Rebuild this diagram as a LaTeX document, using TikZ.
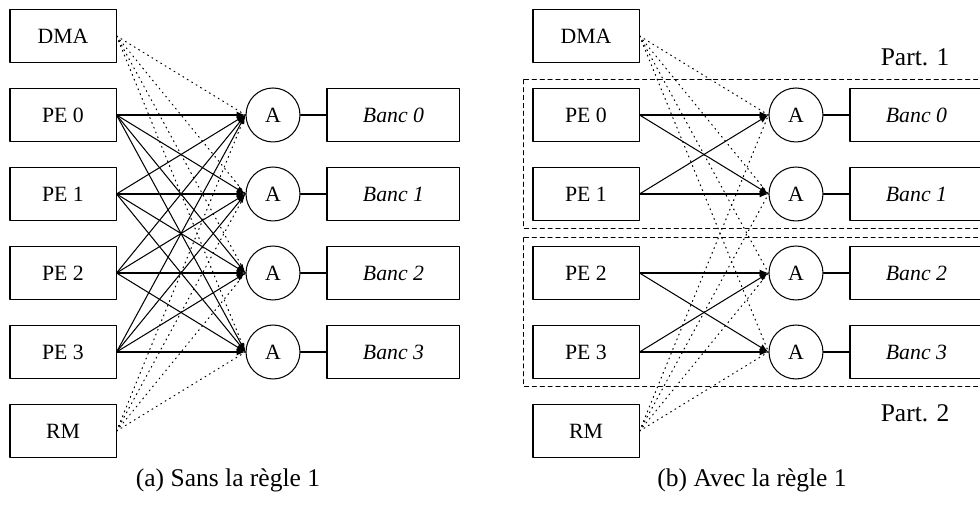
\documentclass[tikz,border=0pt]{standalone}
\usepackage{fontspec}
\setmainfont{Liberation Serif}
\usetikzlibrary{calc}

\begin{document}
\begin{tikzpicture}[line cap=round,line join=round,line width=0.5pt,
  every node/.style={font=\fontsize{10.5}{12}\selectfont},
  unit/.style={draw,minimum width=1.797cm,minimum height=0.898cm,inner sep=0pt},
  banc/.style={draw,minimum width=2.254cm,minimum height=0.898cm,inner sep=0pt,font=\fontsize{10.5}{12}\selectfont\itshape},
  arb/.style={draw,circle,minimum size=0.915cm,inner sep=0pt},
  acces/.style={-latex},
  dma/.style={dotted},
  part/.style={dash pattern=on 2pt off 1.8pt},
  legende/.style={font=\fontsize{12.3}{14}\selectfont}]

\useasboundingbox (0,0) rectangle (16.61,8.593);
\clip (0,0) rectangle (16.61,8.593);

% (a) sans la regle 1
\node[unit] (aDMA) at (1.068,7.983) {DMA};
\node[unit] (aPE0) at (1.068,6.644) {PE 0};
\node[unit] (aPE1) at (1.068,5.305) {PE 1};
\node[unit] (aPE2) at (1.068,3.966) {PE 2};
\node[unit] (aPE3) at (1.068,2.627) {PE 3};
\node[unit] (aRM)  at (1.068,1.288) {RM};

\node[arb] (aA0) at (4.627,6.644) {A};
\node[arb] (aA1) at (4.627,5.305) {A};
\node[arb] (aA2) at (4.627,3.966) {A};
\node[arb] (aA3) at (4.627,2.627) {A};

\node[banc] (aB0) at (6.669,6.644) {Banc 0};
\node[banc] (aB1) at (6.669,5.305) {Banc 1};
\node[banc] (aB2) at (6.669,3.966) {Banc 2};
\node[banc] (aB3) at (6.669,2.627) {Banc 3};

% arbitres -- bancs
\foreach \i in {0,...,3}
  \draw (aA\i) -- (aB\i);

% tous les PE vers tous les bancs
\foreach \p in {0,...,3}
  \foreach \i in {0,...,3}
    \draw[acces] (aPE\p.east) -- (aA\i.west);

% DMA et RM
\foreach \i in {0,...,3} {
  \draw[dma] (aDMA.east) -- (aA\i.west);
  \draw[dma] (aRM.east) -- (aA\i.west);
}

\node[legende] (aCap) at (3.864,0.458) {(a) Sans la règle 1};

% (b) avec la regle 1
\node[unit] (bDMA) at (9.932,7.983) {DMA};
\node[unit] (bPE0) at (9.932,6.644) {PE 0};
\node[unit] (bPE1) at (9.932,5.305) {PE 1};
\node[unit] (bPE2) at (9.932,3.966) {PE 2};
\node[unit] (bPE3) at (9.932,2.627) {PE 3};
\node[unit] (bRM)  at (9.932,1.288) {RM};

\node[arb] (bA0) at (13.491,6.644) {A};
\node[arb] (bA1) at (13.491,5.305) {A};
\node[arb] (bA2) at (13.491,3.966) {A};
\node[arb] (bA3) at (13.491,2.627) {A};

\node[banc] (bB0) at (15.533,6.644) {Banc 0};
\node[banc] (bB1) at (15.533,5.305) {Banc 1};
\node[banc] (bB2) at (15.533,3.966) {Banc 2};
\node[banc] (bB3) at (15.533,2.627) {Banc 3};

\foreach \i in {0,...,3}
  \draw (bA\i) -- (bB\i);

% partition 1 : PE 0,1 -> bancs 0,1
\draw[acces] (bPE0.east) -- (bA0.west);
\draw[acces] (bPE0.east) -- (bA1.west);
\draw[acces] (bPE1.east) -- (bA0.west);
\draw[acces] (bPE1.east) -- (bA1.west);

% partition 2 : PE 2,3 -> bancs 2,3
\draw[acces] (bPE2.east) -- (bA2.west);
\draw[acces] (bPE2.east) -- (bA3.west);
\draw[acces] (bPE3.east) -- (bA2.west);
\draw[acces] (bPE3.east) -- (bA3.west);

\foreach \i in {0,...,3} {
  \draw[dma] (bDMA.east) -- (bA\i.west);
  \draw[dma] (bRM.east) -- (bA\i.west);
}

% cadres des partitions
\draw[part] ($(bPE0.north west)+(-0.15,0.14)$) rectangle ($(bB1.south east)+(0.14,-0.13)$);
\draw[part] ($(bPE2.north west)+(-0.15,0.14)$) rectangle ($(bB3.south east)+(0.14,-0.13)$);

\node[legende] (bP1) at (15.51,7.627) {Part. 1};
\node[legende] (bP2) at (15.51,1.593) {Part. 2};

\node[legende] (bCap) at (12.746,0.458) {(b) Avec la règle 1};

\end{tikzpicture}
\end{document}
